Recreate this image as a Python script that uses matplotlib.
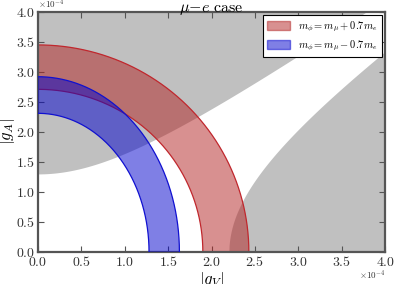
import numpy as np
import matplotlib
matplotlib.use("Agg")
import matplotlib.pyplot as plt
from matplotlib.patches import Patch

plt.rcParams['mathtext.fontset'] = 'cm'
plt.rcParams['font.family'] = ['DejaVu Serif']

SCALE = 1e-4
# Band semi-axes (units of 1e-4): (x-intercept, y-intercept)
red_outer = (2.43, 3.45)
red_inner = (1.90, 2.71)
blue_outer = (1.63, 2.92)
blue_inner = (1.28, 2.31)
# Excluded (gray) regions: |gA|^2 - |gV|^2 > c_up^2 ; |gV|^2 - |gA|^2 > c_low^2
c_up = 1.30
c_low = 2.20
labels = [r'$m_\phi = m_\mu + 0.7 m_e$', r'$m_\phi = m_\mu - 0.7 m_e$']
title = r'$\mu{-}e\ \mathrm{case}$'
offset_label = r'$\times10^{-4}$'

fig = plt.figure(figsize=(3.95, 2.84), dpi=100)
ax = fig.add_axes([0.096, 0.113, 0.879, 0.845])

gray = '#c0c0c0'
xs = np.linspace(0, 4.0, 800)
yu = np.sqrt(c_up**2 + xs**2)
ax.fill_between(xs * SCALE, yu * SCALE, 4.0 * SCALE, color=gray, lw=0, zorder=1)
xl = np.linspace(c_low, 4.0, 800)
yl = np.sqrt(np.clip(xl**2 - c_low**2, 0, None))
ax.fill_between(xl * SCALE, 0, yl * SCALE, color=gray, lw=0, zorder=1)

t = np.linspace(0, np.pi / 2, 400)

def band(outer, inner, fc, ec, z):
    xo, yo = outer[0] * np.cos(t), outer[1] * np.sin(t)
    xi, yi = inner[0] * np.cos(t), inner[1] * np.sin(t)
    px = np.concatenate([xo, xi[::-1]]) * SCALE
    py = np.concatenate([yo, yi[::-1]]) * SCALE
    ax.fill(px, py, color=fc, alpha=0.5, lw=0, zorder=z)
    ax.plot(xo * SCALE, yo * SCALE, color=ec, lw=0.9, zorder=z + 0.1)
    ax.plot(xi * SCALE, yi * SCALE, color=ec, lw=0.9, zorder=z + 0.1)

band(red_outer, red_inner, '#b22222', '#c0272d', 2)
band(blue_outer, blue_inner, '#0000cd', '#1010d0', 3)

ax.set_xlim(0, 4.0 * SCALE)
ax.set_ylim(0, 4.0 * SCALE)
ticks = np.arange(0, 4.01, 0.5)
ax.set_xticks(ticks * SCALE)
ax.set_yticks(ticks * SCALE)
ax.set_xticklabels([r'$%.1f$' % v for v in ticks])
ax.set_yticklabels([r'$%.1f$' % v for v in ticks])
ax.tick_params(direction='in', top=True, right=True, length=4, width=0.8,
               color='#555555', labelsize=10, labelcolor='#333333', pad=2)
for s in ax.spines.values():
    s.set_color('#555555')
    s.set_linewidth(1.6)

ax.text(0.0, 1.003, offset_label, transform=ax.transAxes, fontsize=6.5,
        color='#333333', ha='left', va='bottom')
ax.text(1.0, -0.07, offset_label, transform=ax.transAxes, fontsize=6.5,
        color='#333333', ha='right', va='top')

ax.set_xlabel(r'$|g_V|$', fontsize=12)
ax.set_ylabel(r'$|g_A|$', fontsize=12)
ax.xaxis.set_label_coords(0.5, -0.075)
ax.yaxis.set_label_coords(-0.06, 0.5)
ax.set_title(title, fontsize=11.5, pad=0)

handles = [Patch(facecolor='#b22222', alpha=0.5, edgecolor='#b22222'),
           Patch(facecolor='#0000cd', alpha=0.5, edgecolor='#0000cd')]
leg = ax.legend(handles, labels, loc='upper right', fontsize=7.5, fancybox=False,
                framealpha=1, edgecolor='black', borderaxespad=0.3,
                handlelength=2.2, handleheight=0.9)
leg.get_frame().set_linewidth(0.8)
leg.set_zorder(10)

fig.savefig('out.png', dpi=100)
